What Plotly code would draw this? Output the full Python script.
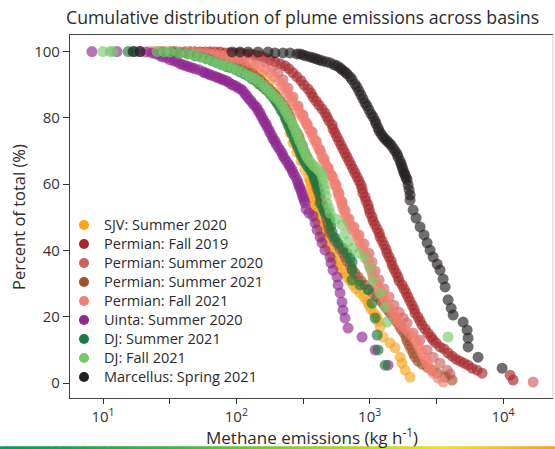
import numpy as np
import plotly.graph_objects as go

# ---------------- data: (log10 emission in kg/h, percent of total) ----------------
series_names = ["SJV: Summer 2020", "Permian: Fall 2019", "Permian: Summer 2020",
                "Permian: Summer 2021", "Permian: Fall 2021", "Uinta: Summer 2020",
                "DJ: Summer 2021", "DJ: Fall 2021", "Marcellus: Spring 2021"]
series_colors = ["#F8A51C", "#A6262A", "#D0605F", "#A0522D", "#F27F72",
                 "#8E278F", "#1B7A3E", "#7CC76E", "#231F20"]

sjv_summer2020 = [
    (1.428, 100.0), (1.578, 99.9), (1.728, 99.6), (1.863, 99.0), (1.968, 98.1), (2.058, 96.9),
    (2.133, 95.1), (2.193, 93.0), (2.245, 90.6), (2.290, 87.8), (2.328, 84.8), (2.358, 81.8),
    (2.380, 78.8), (2.403, 75.5), (2.425, 72.4), (2.455, 69.7), (2.485, 67.0), (2.515, 64.3),
    (2.545, 61.9),
    (2.553, 61.0), (2.560, 59.8), (2.560, 58.6), (2.568, 57.3), (2.568, 56.1), (2.575, 54.9),
    (2.583, 53.7), (2.590, 52.5), (2.590, 51.3), (2.598, 50.1), (2.605, 48.9), (2.620, 47.7),
    (2.628, 46.5), (2.643, 45.3), (2.650, 44.1), (2.665, 42.9), (2.680, 41.6), (2.695, 40.4),
    (2.710, 39.2), (2.725, 38.0), (2.748, 36.8), (2.763, 35.6), (2.785, 34.4), (2.808, 33.2),
    (2.830, 32.0), (2.853, 30.8), (2.875, 29.6), (2.898, 28.4), (2.928, 27.2), (2.958, 26.0),
    (2.980, 24.7), (2.995, 23.5), (3.010, 22.3), (3.033, 21.1), (3.056, 19.9), (3.063, 18.7),
    (3.078, 16.9), (3.101, 13.9), (3.153, 12.1), (3.191, 10.6), (3.228, 7.8), (3.243, 6.0),
    (3.266, 3.9), (3.303, 1.8)]

permian_fall2019 = [
    (1.615, 99.9), (1.653, 99.9), (1.690, 99.9), (1.728, 99.9), (1.765, 99.9), (1.803, 99.9),
    (1.840, 99.9), (1.878, 99.9), (1.915, 99.6), (1.953, 99.6), (1.990, 99.6), (2.028, 99.6),
    (2.065, 99.3), (2.103, 99.3), (2.140, 99.0), (2.178, 98.7), (2.215, 98.1), (2.253, 97.5),
    (2.290, 96.9), (2.328, 96.3), (2.365, 95.7),
    (2.395, 94.8), (2.425, 93.6), (2.455, 92.4), (2.485, 91.2), (2.508, 89.9), (2.538, 88.7),
    (2.560, 87.5), (2.575, 86.3), (2.598, 85.1), (2.620, 83.9), (2.643, 82.7), (2.665, 81.5),
    (2.680, 80.3), (2.695, 79.1), (2.718, 77.9), (2.725, 76.7), (2.740, 75.5), (2.755, 74.3),
    (2.770, 73.0), (2.785, 71.8), (2.800, 70.6), (2.815, 69.4), (2.830, 68.2), (2.845, 67.0),
    (2.860, 65.8), (2.875, 64.6), (2.890, 63.4), (2.905, 62.2), (2.920, 61.0), (2.935, 59.8),
    (2.943, 58.6), (2.950, 57.3), (2.965, 56.1), (2.973, 54.9), (2.988, 53.7), (2.995, 52.5),
    (3.003, 51.3), (3.018, 50.1), (3.026, 48.9), (3.041, 47.7), (3.056, 46.5), (3.071, 45.3),
    (3.078, 44.1), (3.093, 42.9), (3.108, 41.6), (3.123, 40.4), (3.131, 39.2), (3.146, 38.0),
    (3.161, 36.8), (3.168, 35.6), (3.183, 34.4), (3.198, 33.2), (3.213, 32.0), (3.221, 30.8),
    (3.243, 29.6), (3.258, 28.4), (3.273, 27.2), (3.288, 26.0), (3.303, 24.7), (3.318, 23.5),
    (3.333, 22.3), (3.341, 21.1), (3.363, 19.9), (3.378, 18.7), (3.393, 17.5), (3.416, 16.3),
    (3.438, 15.1), (3.461, 13.9),
    (3.476, 13.0), (3.498, 12.1), (3.528, 10.9), (3.558, 10.3), (3.588, 9.1), (3.618, 8.1),
    (3.648, 7.2), (3.678, 6.6), (3.708, 6.0), (3.738, 5.4), (3.768, 4.5), (3.806, 3.9),
    (3.843, 3.0), (4.053, 2.4), (4.076, 0.9)]

permian_summer2020 = [
    (1.653, 100.0), (1.803, 99.9), (1.938, 99.6), (2.050, 99.0), (2.148, 98.1), (2.215, 96.9),
    (2.268, 95.4), (2.313, 93.6), (2.350, 91.5), (2.388, 89.0), (2.425, 86.3), (2.463, 83.6),
    (2.500, 80.9), (2.530, 78.2), (2.568, 75.8), (2.598, 73.0), (2.628, 70.3), (2.658, 67.6),
    (2.688, 64.9), (2.718, 62.5), (2.748, 59.8), (2.770, 57.3), (2.793, 54.6), (2.815, 52.2),
    (2.845, 49.5), (2.883, 47.1), (2.920, 44.7), (2.958, 42.0), (2.995, 39.2), (3.018, 36.5),
    (3.041, 33.8), (3.071, 31.1), (3.108, 28.4), (3.146, 26.0), (3.183, 23.5), (3.221, 21.4),
    (3.251, 19.6), (3.281, 18.1), (3.326, 15.1), (3.378, 13.0), (3.431, 10.0), (3.476, 7.8),
    (3.528, 6.0), (3.581, 3.9), (3.603, 2.7), (4.226, 0.3)]

permian_summer2021 = [
    (1.540, 100.0), (1.615, 99.9), (1.690, 99.9), (1.765, 99.6), (1.825, 99.3), (1.878, 99.0),
    (1.930, 98.4), (1.975, 97.8), (2.013, 97.2), (2.043, 96.3), (2.065, 95.4), (2.088, 94.5),
    (2.118, 93.6), (2.148, 92.4), (2.178, 91.5), (2.208, 90.2), (2.238, 89.0), (2.260, 88.1),
    (2.283, 87.2),
    (2.305, 86.3), (2.328, 85.1), (2.358, 83.9), (2.373, 82.7), (2.388, 81.5), (2.403, 80.3),
    (2.410, 79.1), (2.418, 77.9), (2.433, 76.7), (2.455, 75.5), (2.470, 74.3), (2.478, 73.0),
    (2.493, 71.8), (2.500, 70.6), (2.515, 69.4), (2.530, 68.2), (2.538, 67.0), (2.553, 65.8),
    (2.560, 64.6), (2.575, 63.4), (2.583, 62.2), (2.590, 61.0), (2.598, 59.8), (2.605, 58.6),
    (2.620, 57.3), (2.628, 56.1), (2.635, 54.9), (2.650, 53.7), (2.658, 52.5), (2.665, 51.3),
    (2.673, 50.1), (2.680, 48.9), (2.688, 47.7), (2.695, 46.5), (2.703, 45.3), (2.725, 44.1),
    (2.740, 42.9), (2.763, 41.6), (2.778, 40.4), (2.800, 39.2), (2.815, 38.0), (2.830, 36.8),
    (2.853, 35.6), (2.868, 34.4), (2.890, 33.2), (2.913, 32.0), (2.935, 30.8), (2.965, 29.6),
    (2.995, 28.4), (3.026, 27.2), (3.056, 26.0), (3.086, 24.7), (3.108, 23.5), (3.131, 22.3),
    (3.153, 21.1), (3.176, 19.9), (3.198, 18.7), (3.221, 17.5), (3.236, 16.3), (3.258, 15.1),
    (3.273, 13.9), (3.281, 12.7), (3.296, 11.5), (3.311, 10.3), (3.326, 9.0), (3.341, 7.8),
    (3.363, 6.6),
    (3.393, 5.7), (3.431, 4.8), (3.468, 3.9), (3.506, 3.0), (3.566, 1.8), (3.618, 0.9)]

permian_fall2021 = [
    (1.353, 100.0), (1.390, 100.0), (1.428, 100.0), (1.465, 100.0), (1.503, 100.0), (1.540, 100.0),
    (1.578, 99.9), (1.615, 99.9), (1.653, 99.9), (1.690, 99.9), (1.728, 99.6), (1.765, 99.6),
    (1.803, 99.3), (1.840, 99.3), (1.878, 99.0), (1.915, 98.7), (1.953, 98.4), (1.990, 98.1),
    (2.028, 97.8), (2.065, 97.2), (2.103, 96.6), (2.140, 96.0), (2.178, 95.4), (2.215, 94.5),
    (2.253, 93.6),
    (2.283, 92.4), (2.320, 91.2), (2.343, 89.9), (2.365, 88.7), (2.380, 87.5), (2.403, 86.3),
    (2.418, 85.1), (2.440, 83.9), (2.463, 82.7), (2.478, 81.5), (2.493, 80.3), (2.515, 79.1),
    (2.530, 77.9), (2.545, 76.7), (2.560, 75.5), (2.575, 74.3), (2.590, 73.0), (2.605, 71.8),
    (2.620, 70.6), (2.635, 69.4), (2.643, 68.2), (2.658, 67.0), (2.673, 65.8), (2.688, 64.6),
    (2.703, 63.4), (2.718, 62.2), (2.733, 61.0), (2.740, 59.8), (2.755, 58.6), (2.763, 57.3),
    (2.770, 56.1), (2.785, 54.9), (2.793, 53.7), (2.800, 52.5), (2.815, 51.3), (2.823, 50.1),
    (2.838, 48.9), (2.853, 47.7), (2.868, 46.5), (2.890, 45.3), (2.905, 44.1), (2.920, 42.9),
    (2.935, 41.6), (2.950, 40.4), (2.965, 39.2), (2.980, 38.0), (2.988, 36.8), (2.995, 35.6),
    (3.010, 34.4), (3.018, 33.2), (3.026, 32.0), (3.041, 30.8), (3.056, 29.6), (3.071, 28.4),
    (3.086, 27.2), (3.101, 26.0), (3.116, 24.7), (3.138, 23.5), (3.153, 22.3), (3.176, 21.1),
    (3.198, 19.9), (3.213, 18.7), (3.236, 17.5), (3.266, 16.3), (3.296, 15.1), (3.326, 13.9),
    (3.348, 12.7), (3.363, 11.5), (3.378, 10.3), (3.393, 9.0), (3.408, 7.8), (3.423, 6.6),
    (3.438, 5.4), (3.461, 4.2), (3.476, 3.0), (3.513, 1.5), (3.551, 0.3)]

uinta_summer2020 = [
    (0.917, 100.0), (1.105, 100.0), (1.278, 100.0), (1.323, 99.9), (1.368, 99.6), (1.398, 99.3),
    (1.428, 98.7), (1.450, 98.4), (1.480, 98.1), (1.503, 97.5), (1.533, 97.2), (1.555, 96.9),
    (1.578, 96.3), (1.600, 96.0), (1.623, 95.7), (1.645, 95.4), (1.668, 95.1), (1.690, 94.8),
    (1.720, 94.5), (1.750, 93.9), (1.765, 93.6), (1.788, 93.3), (1.803, 93.0), (1.825, 92.7),
    (1.848, 92.4), (1.863, 92.1), (1.885, 91.8), (1.900, 91.5), (1.923, 91.2), (1.938, 90.9),
    (1.960, 90.2), (1.975, 89.9), (1.998, 89.6), (2.013, 89.0), (2.035, 88.7), (2.050, 88.1),
    (2.065, 87.2), (2.080, 86.6), (2.095, 85.7), (2.110, 85.1), (2.125, 84.2), (2.140, 83.6),
    (2.155, 83.0), (2.163, 82.1), (2.178, 81.5), (2.185, 80.6), (2.200, 79.7), (2.208, 78.8),
    (2.223, 78.2), (2.230, 77.3), (2.245, 76.4), (2.253, 75.5), (2.268, 74.6), (2.275, 73.6),
    (2.290, 73.0), (2.298, 72.1), (2.313, 71.2), (2.328, 70.3), (2.343, 69.4), (2.350, 68.5),
    (2.365, 67.6), (2.380, 66.7), (2.395, 65.8), (2.403, 65.2), (2.418, 64.3), (2.425, 63.4),
    (2.440, 62.5), (2.455, 61.3), (2.463, 60.4), (2.470, 59.5), (2.478, 58.9), (2.485, 58.0),
    (2.493, 57.0), (2.500, 56.1), (2.508, 55.2), (2.515, 54.3), (2.523, 52.5), (2.545, 51.3),
    (2.575, 50.4), (2.590, 48.3), (2.605, 46.2), (2.628, 44.1), (2.643, 42.3), (2.665, 40.1),
    (2.703, 38.0), (2.710, 36.2), (2.725, 34.1), (2.755, 32.0), (2.763, 29.6), (2.778, 27.2),
    (2.793, 24.4), (2.800, 22.0), (2.815, 19.6), (2.838, 16.6), (2.943, 13.9), (3.041, 10.0),
    (3.138, 5.4)]

dj_summer2021 = [
    (1.188, 100.0), (1.240, 100.0), (1.450, 99.9), (1.518, 99.9), (1.578, 99.6), (1.638, 99.3),
    (1.690, 98.7), (1.735, 98.4), (1.780, 97.8), (1.818, 97.2), (1.855, 96.6), (1.893, 96.0),
    (1.930, 95.4), (1.960, 95.1), (1.998, 94.5), (2.028, 93.9), (2.058, 93.3), (2.088, 92.7),
    (2.118, 91.8), (2.148, 91.2), (2.170, 90.2), (2.193, 89.6), (2.215, 88.7), (2.238, 88.1),
    (2.253, 87.2), (2.275, 86.3), (2.290, 85.4), (2.305, 84.5), (2.320, 83.6), (2.335, 82.4),
    (2.350, 81.5), (2.365, 80.3), (2.373, 79.4), (2.388, 78.2), (2.395, 77.3), (2.410, 76.1),
    (2.418, 75.2), (2.433, 73.9), (2.440, 73.0), (2.455, 71.8), (2.463, 70.9), (2.478, 69.7),
    (2.485, 68.8), (2.500, 67.9), (2.508, 67.0), (2.523, 66.1), (2.538, 65.2), (2.553, 64.3),
    (2.568, 63.4), (2.583, 62.2), (2.590, 61.3), (2.605, 60.1), (2.613, 59.2), (2.620, 58.0),
    (2.628, 56.7), (2.628, 54.3), (2.650, 52.8), (2.665, 51.6), (2.688, 50.4), (2.703, 49.2),
    (2.710, 47.4), (2.718, 45.6), (2.740, 43.8), (2.763, 42.3), (2.800, 40.7), (2.830, 39.2),
    (2.853, 37.7), (2.868, 36.5), (2.868, 34.1), (2.868, 31.1), (2.928, 29.6), (2.988, 28.1),
    (3.018, 24.1), (3.041, 19.6), (3.056, 14.5), (3.063, 10.0), (3.116, 5.4)]

dj_fall2021 = [
    (1.000, 100.0), (1.053, 100.0), (1.075, 100.0), (1.405, 100.0), (1.458, 99.9), (1.503, 99.9),
    (1.570, 99.6), (1.630, 99.3), (1.683, 99.0), (1.728, 98.4), (1.773, 97.8), (1.818, 97.2),
    (1.855, 96.6), (1.893, 96.0), (1.930, 95.7), (1.968, 95.1), (2.005, 94.5), (2.043, 93.9),
    (2.080, 93.0), (2.110, 92.4), (2.140, 91.8), (2.170, 90.9), (2.200, 89.9), (2.223, 89.0),
    (2.245, 88.1), (2.268, 87.2), (2.290, 86.3), (2.313, 85.4), (2.335, 84.2), (2.350, 83.3),
    (2.365, 82.1), (2.380, 81.2), (2.395, 80.0), (2.410, 79.1), (2.425, 77.9), (2.433, 77.0),
    (2.448, 75.8), (2.455, 74.9), (2.470, 73.6), (2.478, 72.7), (2.493, 71.5), (2.500, 70.6),
    (2.515, 69.4), (2.523, 68.5), (2.538, 67.6), (2.553, 66.7), (2.575, 65.8), (2.590, 65.2),
    (2.613, 64.3), (2.628, 63.7), (2.643, 62.5), (2.650, 61.3), (2.658, 59.8), (2.665, 58.3),
    (2.673, 56.4), (2.680, 54.3), (2.695, 52.8), (2.703, 51.3), (2.748, 49.5), (2.793, 47.7),
    (2.815, 45.0), (2.838, 42.6), (2.875, 40.7), (2.920, 39.2), (2.965, 37.7), (3.003, 34.7),
    (3.026, 31.1), (3.078, 27.2), (3.116, 22.9), (3.131, 18.4), (3.588, 13.9)]

marcellus_spring2021 = [
    (1.225, 100.0), (1.278, 100.0), (1.968, 99.9), (2.028, 99.9), (2.088, 99.9), (2.163, 99.9),
    (2.238, 99.9), (2.290, 99.6), (2.350, 99.6), (2.403, 99.6), (2.455, 99.3), (2.478, 99.3),
    (2.500, 99.0), (2.523, 98.7), (2.553, 98.4), (2.575, 98.1), (2.598, 97.8), (2.620, 97.5),
    (2.643, 97.2), (2.673, 96.9), (2.703, 96.6), (2.733, 96.0), (2.755, 95.7), (2.778, 95.1),
    (2.793, 94.5), (2.815, 93.9), (2.830, 93.3), (2.853, 92.4), (2.868, 91.5), (2.890, 90.2),
    (2.905, 89.3), (2.920, 88.1), (2.935, 86.9), (2.950, 85.7), (2.965, 84.5), (2.980, 83.6),
    (2.995, 82.4), (3.010, 81.2), (3.026, 80.3), (3.041, 79.1), (3.048, 78.2), (3.063, 77.0),
    (3.071, 76.1), (3.086, 75.2), (3.101, 74.3), (3.116, 73.6), (3.131, 73.0), (3.146, 72.4),
    (3.161, 71.8), (3.176, 70.9), (3.191, 70.0), (3.206, 69.1), (3.213, 68.2), (3.228, 67.0),
    (3.236, 66.1), (3.243, 65.2), (3.251, 64.3), (3.258, 63.4), (3.266, 62.8), (3.273, 61.9),
    (3.281, 61.3), (3.288, 59.8), (3.296, 58.3), (3.303, 56.7), (3.303, 55.2), (3.326, 52.2),
    (3.348, 49.8), (3.378, 47.1), (3.408, 44.7), (3.431, 42.3), (3.453, 40.1), (3.476, 38.0),
    (3.506, 35.9), (3.528, 34.1), (3.551, 31.4), (3.566, 29.0), (3.588, 25.1), (3.611, 22.6),
    (3.626, 20.5), (3.701, 18.4), (3.731, 16.0), (3.738, 13.6), (3.738, 10.9), (3.813, 7.8),
    (3.993, 4.5)]

series_data = [sjv_summer2020, permian_fall2019, permian_summer2020, permian_summer2021,
               permian_fall2021, uinta_summer2020, dj_summer2021, dj_fall2021,
               marcellus_spring2021]

x_tick_values = [10, 10 ** 1.5, 100, 10 ** 2.5, 1000, 10 ** 3.5, 10000]
x_tick_labels = ["10<sup>1</sup>", "", "10<sup>2</sup>", "", "10<sup>3</sup>", "", "10<sup>4</sup>"]
y_tick_values = [0, 20, 40, 60, 80, 100]

FONT = "'Open Sans', 'Noto Sans', sans-serif"
TXT = "#2b2b2b"

fig = go.Figure()
for name, color, pts in zip(series_names, series_colors, series_data):
    arr = np.array(pts)
    fig.add_trace(go.Scatter(
        x=np.power(10.0, arr[:, 0]), y=arr[:, 1], mode="markers", name=name,
        showlegend=False, hoverinfo="skip",
        marker=dict(color=color, size=11, opacity=0.65, line=dict(width=0)),
    ))
# legend entries (solid swatches); text shown a little larger than the row pitch font
for name, color in zip(series_names, series_colors):
    fig.add_trace(go.Scatter(
        x=[None], y=[None], mode="markers", showlegend=True,
        name="<span style='font-size:14.5px'>%s</span>" % name,
        marker=dict(color=color, size=10, opacity=1, line=dict(width=0)),
    ))

# decorative gradient strip at the bottom of the image
stops = [(0.0, (10, 150, 90)), (0.3, (55, 180, 70)), (0.6, (165, 212, 40)),
         (0.8, (238, 228, 20)), (1.0, (245, 160, 30))]
def grad(t):
    for (t0, c0), (t1, c1) in zip(stops[:-1], stops[1:]):
        if t <= t1:
            f = (t - t0) / (t1 - t0)
            return "rgb(%d,%d,%d)" % tuple(round(a + (b - a) * f) for a, b in zip(c0, c1))
    return "rgb(%d,%d,%d)" % stops[-1][1]

shapes = []
nseg = 80
x_left, x_right = -70 / 483, 485 / 483
for i in range(nseg):
    a = x_left + (x_right - x_left) * i / nseg
    b = x_left + (x_right - x_left) * (i + 1) / nseg + 0.002
    shapes.append(dict(type="rect", xref="paper", yref="paper", x0=a, x1=b,
                       y0=-0.1433, y1=-0.1330, fillcolor=grad((i + 0.5) / nseg),
                       line=dict(width=0), layer="above"))
# light right border
shapes.append(dict(type="line", xref="paper", yref="paper", x0=1, x1=1, y0=0, y1=1,
                   line=dict(color="#d0d0d0", width=1)))

fig.update_layout(
    width=555, height=449, autosize=False,
    margin=dict(l=70, r=2, t=35, b=51),
    paper_bgcolor="white", plot_bgcolor="white",
    font=dict(family=FONT, color=TXT, size=15),
    title=dict(text="Cumulative distribution of plume emissions across basins",
               x=66 / 555, xanchor="left", xref="container", y=0.961, yref="container",
               yanchor="middle", font=dict(size=17.7, color=TXT, family=FONT)),
    showlegend=True,
    legend=dict(x=-0.0124, y=0.5165, xanchor="left", yanchor="top",
                bgcolor="rgba(0,0,0,0)", borderwidth=0,
                font=dict(size=12.1, color=TXT, family=FONT),
                itemclick=False, itemdoubleclick=False),
    xaxis=dict(type="log", range=[0.7525, 4.375], tickvals=x_tick_values, ticktext=x_tick_labels,
               ticks="outside", ticklen=5, tickwidth=1, tickcolor="#333",
               showline=True, linecolor="#444", linewidth=1.2, mirror=True,
               showgrid=False, zeroline=False, tickfont=dict(size=15, color="#333")),
    yaxis=dict(range=[-4.5, 105.0], tickvals=y_tick_values,
               ticks="outside", ticklen=6, tickwidth=1, tickcolor="#333",
               showline=True, linecolor="#444", linewidth=1.2,
               showgrid=False, zeroline=False, tickfont=dict(size=15, color="#333")),
    shapes=shapes,
    annotations=[
        dict(text="Percent of total (%)", xref="paper", yref="paper", x=-51 / 483,
             y=(398 - 217) / 363, xanchor="center", yanchor="middle", textangle=-90,
             showarrow=False, font=dict(size=16.5, color=TXT, family=FONT)),
        dict(text="Methane emissions (kg h<sup>-1</sup>)", xref="paper", yref="paper",
             x=0.5, y=-38.5 / 363, xanchor="center", yanchor="middle", showarrow=False,
             font=dict(size=17, color=TXT, family=FONT)),
    ],
)

fig.write_html("out.html")
